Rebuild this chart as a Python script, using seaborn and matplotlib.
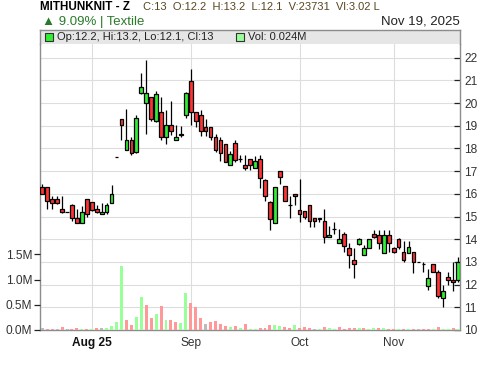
import numpy as np
import pandas as pd
import matplotlib
matplotlib.use("Agg")
import matplotlib.pyplot as plt
import seaborn as sns

# ---------------- data ----------------
opens = [16.3, 16.3, 15.75, 15.75, 15.35, 15.2, 15.5, 14.95, 14.7, 15.75,
         15.65, 15.35, 15.1, 15.2, 15.6, 17.6, 19.3, 17.95, 18.35, 17.85,
         20.45, 20.0, 20.25, 19.2, 19.6, 18.5, 19.05, 18.35, 18.6, 19.45,
         20.95, 19.6, 19.45, 18.95, 18.95, 18.5, 18.35, 18.2, 17.25, 18.25,
         17.55, 17.25, 17.55, 17.15, 17.55, 16.6, 15.65, 14.7, 17.0, 16.35,
         15.5, 16.0, 15.3, 15.25, 15.5, 14.95, 14.95, 14.8, 14.1, 14.45,
         13.85, 14.25, 13.6, 13.1, 13.8, 13.3, 13.6, 14.25, 14.2, 13.4,
         14.2, 13.6, 14.0, 13.45, 13.38, 13.45, 13.0, 12.9, 11.95, 12.9,
         12.57, 11.4, 12.35, 12.2, 12.2]
highs = [16.45, 16.3, 15.9, 15.9, 15.9, 15.2, 15.55, 15.35, 15.45, 15.75,
         15.65, 15.5, 15.6, 15.6, 16.4, 17.6, 19.3, 19.75, 18.5, 19.45,
         21.3, 21.9, 20.25, 20.55, 20.25, 19.7, 20.1, 19.05, 19.0, 20.5,
         21.5, 19.6, 19.7, 19.3, 18.95, 18.65, 18.5, 18.2, 17.9, 18.35,
         17.7, 17.7, 17.55, 17.65, 17.7, 16.65, 15.7, 16.3, 17.0, 16.35,
         15.9, 16.0, 16.65, 15.25, 15.5, 14.95, 14.95, 15.35, 14.6, 14.75,
         14.45, 14.3, 13.85, 13.6, 14.05, 13.75, 14.0, 14.4, 14.4, 14.4,
         14.4, 13.65, 14.05, 13.9, 13.9, 13.45, 13.0, 12.98, 12.7, 12.9,
         12.65, 11.98, 12.55, 13.0, 13.2]
lows = [16.0, 15.35, 15.35, 15.55, 15.15, 15.2, 14.8, 14.7, 14.7, 15.0,
        15.25, 15.15, 15.1, 15.1, 15.6, 17.6, 18.35, 17.95, 17.7, 17.8,
        20.4, 18.65, 19.2, 19.15, 18.35, 18.2, 18.6, 18.35, 18.5, 19.35,
        19.05, 18.95, 18.55, 18.55, 18.35, 17.85, 17.45, 17.4, 17.25, 17.4,
        17.4, 17.05, 17.05, 17.15, 16.25, 15.7, 14.4, 14.7, 16.45, 15.7,
        14.95, 15.5, 14.75, 14.9, 14.55, 14.55, 14.75, 13.85, 14.1, 14.25,
        13.85, 13.45, 12.75, 12.3, 13.75, 13.3, 13.6, 14.05, 13.55, 13.4,
        13.45, 13.4, 13.55, 13.0, 13.38, 12.5, 13.0, 12.57, 11.75, 12.55,
        11.42, 11.03, 12.0, 11.7, 12.1]
closes = [16.0, 15.7, 15.6, 15.6, 15.2, 15.2, 14.95, 14.7, 15.2, 15.1,
          15.3, 15.2, 15.2, 15.5, 16.0, 17.6, 19.05, 18.35, 17.8, 19.35,
          20.7, 20.45, 19.3, 20.4, 18.5, 19.05, 18.75, 18.5, 18.65, 20.45,
          19.6, 19.2, 18.75, 18.75, 18.5, 17.95, 17.8, 17.4, 17.75, 17.5,
          17.55, 17.15, 17.25, 17.45, 16.7, 15.9, 14.9, 16.3, 16.75, 15.7,
          15.5, 15.9, 15.1, 15.0, 14.8, 14.8, 14.9, 14.1, 14.2, 14.45,
          14.0, 13.7, 13.3, 12.9, 14.0, 13.6, 14.0, 14.1, 13.85, 14.2,
          13.85, 13.45, 13.67, 13.08, 13.67, 13.0, 13.0, 12.9, 12.3, 12.57,
          11.5, 11.7, 12.2, 12.1, 13.0]
volumes_m = [0.046, 0.02, 0.02, 0.02, 0.066, 0.02, 0.02, 0.04, 0.02, 0.02,
             0.02, 0.04, 0.04, 0.04, 0.086, 0.16, 1.27, 0.2, 0.1, 0.26,
             0.65, 0.5, 0.24, 0.32, 0.48, 0.2, 0.2, 0.16, 0.14, 0.73,
             0.54, 0.45, 0.24, 0.12, 0.16, 0.18, 0.12, 0.08, 0.066, 0.08,
             0.04, 0.12, 0.02, 0.015, 0.04, 0.04, 0.1, 0.1, 0.08, 0.06,
             0.04, 0.1, 0.04, 0.06, 0.04, 0.02, 0.02, 0.066, 0.04, 0.02,
             0.066, 0.01, 0.04, 0.04, 0.04, 0.04, 0.02, 0.04, 0.04, 0.04,
             0.02, 0.02, 0.01, 0.02, 0.01, 0.02, 0.02, 0.01, 0.02, 0.01,
             0.066, 0.01, 0.01, 0.04, 0.024]
month_ticks = [10, 30, 52, 71]
month_labels = ["Aug 25", "Sep", "Oct", "Nov"]
price_ticks = list(range(10, 23))
vol_ticks = [0.0, 0.5, 1.0, 1.5]
vol_labels = ["0.0M", "0.5M", "1.0M", "1.5M"]

# ---------------- style ----------------
sns.set_style("white")
plt.rcParams["font.family"] = ["Liberation Sans", "DejaVu Sans"]

GREEN = "#33ee33"
RED = "#ff3333"
VGREEN = "#99ff99"
VRED = "#ff9999"
VGRAY = "#bbbbbb"
GRID = "#dddddd"
SPINE = "#8c8c8c"

o = np.array(opens); h = np.array(highs); l = np.array(lows); c = np.array(closes)
v = np.array(volumes_m)
n = len(o)
x = np.arange(n)

prev = np.concatenate([[c[0]], c[:-1]])
vcat = np.where(c > prev, "up", np.where(c < prev, "down", "flat"))
vcat[0] = "flat"
df = pd.DataFrame({"idx": x, "vol": v, "dir": vcat})

W, H = 500, 366
fig = plt.figure(figsize=(W / 100, H / 100), dpi=100)
fig.patch.set_facecolor("white")

ax = fig.add_axes([40 / W, 36 / H, 420 / W, 286 / H])
ax2 = ax.twinx()
strip = fig.add_axes([40 / W, 322 / H, 420 / W, 14 / H])

# grid + candles on price axes
ax.set_axisbelow(True)
ax.grid(True, color=GRID, lw=0.8)
ax.vlines(x, l, h, color="black", lw=0.9, zorder=2)
body_col = np.where(c > o, GREEN, np.where(c < o, RED, "white"))
ax.bar(x, np.abs(c - o), bottom=np.minimum(o, c), width=0.75,
       color=body_col, edgecolor="black", linewidth=0.9, zorder=3)

# volume bars with seaborn
sns.barplot(data=df, x="idx", y="vol", hue="dir",
            palette={"up": VGREEN, "down": VRED, "flat": VGRAY},
            native_scale=True, dodge=False, width=0.6, legend=False,
            errorbar=None, saturation=1, linewidth=0, ax=ax2)
ax2.set_xlabel(""); ax2.set_ylabel("")
ax.set_xlabel(""); ax.set_ylabel("")

# limits
ax.set_xlim(-0.46, 84.4)
ax.set_ylim(10, 10 + 286 / 22.7)
ax2.set_ylim(0, 286 / 50.5)

# price axis (right)
ax.yaxis.tick_right()
ax.set_yticks(price_ticks)
ax.set_yticklabels([str(t) for t in price_ticks])
ax.tick_params(axis="y", which="both", direction="in", length=4, width=0.9,
               pad=3, labelsize=8.6, color="#222222", labelcolor="#333333",
               left=False, right=True)

# volume axis (left)
ax2.yaxis.tick_left()
ax2.set_yticks(vol_ticks)
ax2.set_yticklabels(vol_labels)
ax2.tick_params(axis="y", which="both", direction="out", length=4, width=0.9,
                pad=1.5, labelsize=8.6, color="#222222", labelcolor="#333333",
                left=True, right=False)

# date axis
ax.set_xticks(month_ticks)
ax.set_xticklabels(month_labels)
ax.tick_params(axis="x", direction="out", length=3, width=0.9, pad=2,
               labelsize=8.6, color="#222222", labelcolor="#333333")
ax.get_xticklabels()[0].set_fontweight("bold")
ax.get_xticklabels()[0].set_color("#111111")

for a in (ax, ax2):
    for s in a.spines.values():
        s.set_color(SPINE)
        s.set_linewidth(1.0)
ax.spines["top"].set_visible(False)
for s in ax2.spines.values():
    s.set_visible(False)

# legend strip
strip.set_facecolor("#e6e6e6")
strip.set_xticks([]); strip.set_yticks([])
strip.set_xlim(0, 1); strip.set_ylim(0, 1)
for k, s in strip.spines.items():
    s.set_color(SPINE)
    s.set_linewidth(1.0)
strip.spines["bottom"].set_visible(False)
strip.scatter([(48.5 - 40) / 420], [0.5], marker="s", s=26, facecolor=GREEN,
              edgecolor="#333333", linewidth=0.8, zorder=3)
strip.text((57 - 40) / 420, 0.5,
           f"Op:{opens[-1]:g}, Hi:{highs[-1]:g}, Lo:{lows[-1]:g}, Cl:{closes[-1]:g}",
           fontsize=8.0, color="#222222", va="center", ha="left")
strip.scatter([(240.5 - 40) / 420], [0.5], marker="s", s=26, facecolor=VGREEN,
              edgecolor="#333333", linewidth=0.8, zorder=3)
strip.text((248 - 40) / 420, 0.5, f"Vol: {volumes_m[-1]:.3f}M",
           fontsize=8.0, color="#222222", va="center", ha="left")

# header
fig.text(40 / W, 1 - 7.5 / H, "MITHUNKNIT - Z", fontsize=8.4, fontweight="bold",
         color="black", va="center", ha="left")
fig.text(143 / W, 1 - 7.5 / H,
         "C:13  O:12.2  H:13.2  L:12.1  V:23731  Vl:3.02 L",
         fontsize=8.0, color="#5a4520", va="center", ha="left")
fig.text(42 / W, 1 - 22 / H, "▲ 9.09% | Textile", fontsize=9.5,
         color="#2a7a2a", va="center", ha="left")
fig.text(460 / W, 1 - 22 / H, "Nov 19, 2025", fontsize=9.5,
         color="#222222", va="center", ha="right")

fig.savefig("out.png", dpi=100, facecolor="white")
